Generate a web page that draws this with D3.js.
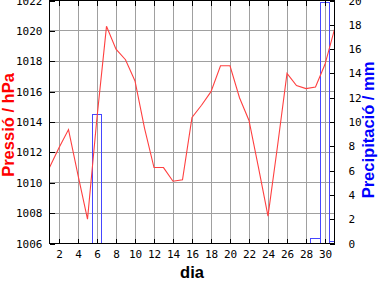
<!DOCTYPE html>
<html>
<head>
<meta charset="utf-8">
<script src="https://cdn.jsdelivr.net/npm/d3@7"></script>
<style>
body { margin: 0; background: #fff; }
svg { display: block; }
</style>
</head>
<body>
<svg id="ChartSvg" width="384" height="288"></svg>
<script>
// dies del mes
var Dies = d3.range(1, 32);
// pressio diaria (hPa)
var Pressio = [1011.0, 1012.3, 1013.5, 1010.5, 1007.6, 1014.3, 1020.3, 1018.8, 1018.1, 1016.7,
	1013.6, 1011.0, 1011.0, 1010.1, 1010.2, 1014.3, 1015.1, 1016.0, 1017.7, 1017.7,
	1015.6, 1014.1, 1011.0, 1007.8, 1012.4, 1017.2, 1016.4, 1016.2, 1016.3, 1017.8, 1020.1];
// precipitacio diaria (mm)
var Precip = [0, 0, 0, 0, 0, 10.6, 0, 0, 0, 0,
	0, 0, 0, 0, 0, 0, 0, 0, 0, 0,
	0, 0, 0, 0, 0, 0, 0, 0, 0.4, 19.8, 0.15];
var DiaTicks = d3.range(2, 31, 2);
var PressioTicks = d3.range(1006, 1023, 2);
var PrecipTicks = d3.range(0, 21, 2);

var Left = 49.5, Right = 334.5, Top = 0.5, Bottom = 243.5;

var svg = d3.select("#ChartSvg");

var X = d3.scaleLinear().domain([1, 31]).range([Left, Right]);
var YP = d3.scaleLinear().domain([1006, 1022]).range([Bottom, Top]);
var YR = d3.scaleLinear().domain([0, 20]).range([Bottom, Top]);

svg.append("clipPath").attr("id", "Clip")
	.append("rect")
	.attr("x", Left).attr("y", Top)
	.attr("width", Right - Left).attr("height", Bottom - Top);

// graella
var Grid = svg.append("g").attr("shape-rendering", "crispEdges");
Grid.selectAll(".gx").data(DiaTicks).enter().append("line")
	.attr("x1", function(d){ return X(d); }).attr("x2", function(d){ return X(d); })
	.attr("y1", Top).attr("y2", Bottom)
	.attr("stroke", "#a0a0a0");
Grid.selectAll(".gy").data(PressioTicks).enter().append("line")
	.attr("x1", Left).attr("x2", Right)
	.attr("y1", function(d){ return YP(d); }).attr("y2", function(d){ return YP(d); })
	.attr("stroke", "#a0a0a0");

var Plot = svg.append("g").attr("clip-path", "url(#Clip)");

// barres de precipitacio
Plot.selectAll("rect").data(Dies.filter(function(d){ return Precip[d - 1] > 0; }))
	.enter().append("rect")
	.attr("x", function(d){ return X(d - 0.5); })
	.attr("width", function(d){ return X(d + 0.5) - X(d - 0.5); })
	.attr("y", function(d){ return YR(Precip[d - 1]); })
	.attr("height", function(d){ return YR(0) - YR(Precip[d - 1]); })
	.attr("fill", "none")
	.attr("stroke", "#4646ff")
	.attr("shape-rendering", "crispEdges");

// linia de pressio
var Linia = d3.line()
	.x(function(d){ return X(d); })
	.y(function(d){ return YP(Pressio[d - 1]); });
Plot.append("path")
	.attr("d", Linia(Dies))
	.attr("fill", "none")
	.attr("stroke", "#ff4040")
	.attr("stroke-width", 1.1);

// eixos
function Estil(g)
{
	g.attr("shape-rendering", "crispEdges");
	g.select(".domain").remove();
	g.selectAll("text")
		.attr("font-family", "DejaVu Sans Mono")
		.attr("font-size", 11)
		.attr("fill", "#000");
}

svg.append("g").attr("transform", "translate(0," + Bottom + ")")
	.call(d3.axisBottom(X).tickValues(DiaTicks).tickSize(-5).tickPadding(7).tickFormat(d3.format("d")))
	.call(Estil);
svg.append("g").attr("transform", "translate(0," + Top + ")")
	.call(d3.axisTop(X).tickValues(DiaTicks).tickSize(-5).tickFormat(""))
	.call(Estil);
svg.append("g").attr("transform", "translate(" + Left + ",0)")
	.call(d3.axisLeft(YP).tickValues(PressioTicks).tickSize(-5).tickPadding(7).tickFormat(d3.format("d")))
	.call(Estil);
svg.append("g").attr("transform", "translate(" + Right + ",0)")
	.call(d3.axisRight(YR).tickValues(PrecipTicks).tickSize(-5).tickPadding(14).tickFormat(d3.format("d")))
	.call(Estil);

svg.append("rect")
	.attr("x", Left).attr("y", Top)
	.attr("width", Right - Left).attr("height", Bottom - Top)
	.attr("fill", "none").attr("stroke", "#000")
	.attr("shape-rendering", "crispEdges");

// titols
svg.append("text")
	.attr("transform", "translate(14," + ((Top + Bottom) / 2 + 3) + ") rotate(-90)")
	.attr("text-anchor", "middle")
	.attr("font-family", "Liberation Sans")
	.attr("font-weight", "bold")
	.attr("font-size", 16.5)
	.attr("fill", "#ff0000")
	.text("Pressió / hPa");
svg.append("text")
	.attr("transform", "translate(374," + ((Top + Bottom) / 2 + 8) + ") rotate(-90)")
	.attr("text-anchor", "middle")
	.attr("font-family", "Liberation Sans")
	.attr("font-weight", "bold")
	.attr("font-size", 16.5)
	.attr("fill", "#0000ff")
	.text("Precipitació / mm");
svg.append("text")
	.attr("x", (Left + Right) / 2)
	.attr("y", 278)
	.attr("text-anchor", "middle")
	.attr("font-family", "Liberation Sans")
	.attr("font-weight", "bold")
	.attr("font-size", 16.5)
	.attr("fill", "#000")
	.text("dia");
</script>
</body>
</html>
